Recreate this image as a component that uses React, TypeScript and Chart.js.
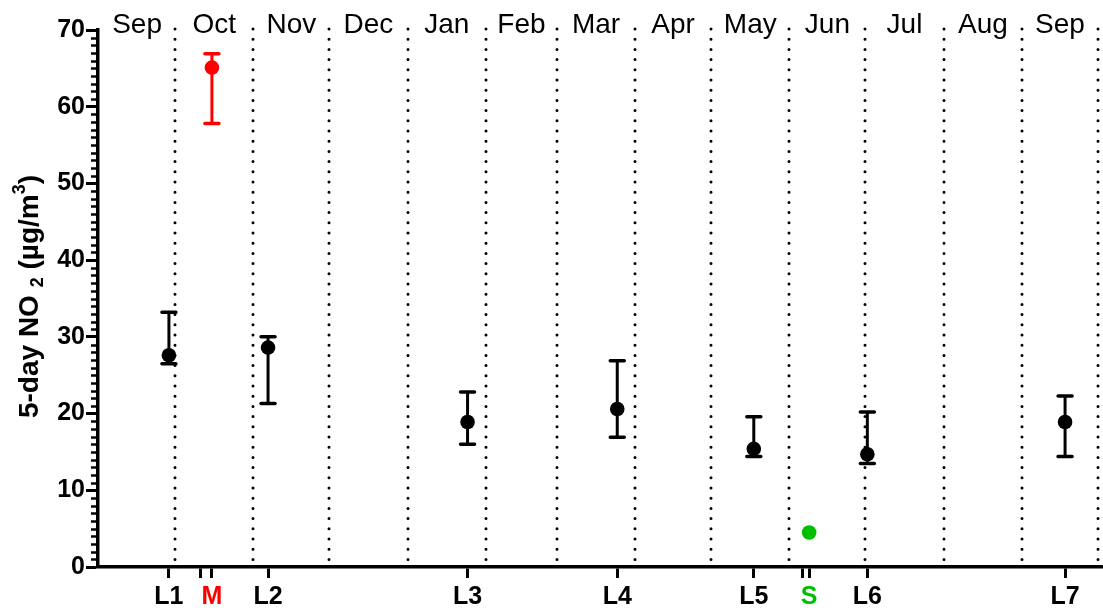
import { useEffect, useRef } from "react";
import { Chart, registerables } from "chart.js";

Chart.register(...registerables);

const FONT = "'Liberation Sans', Arial, Helvetica, sans-serif";

// Months shown along the top, with their start day (days since Sep 1)
const monthNames = ["Sep", "Oct", "Nov", "Dec", "Jan", "Feb", "Mar", "Apr", "May", "Jun", "Jul", "Aug", "Sep"];
const monthStarts = [0, 30, 61, 91, 122, 153, 181, 212, 242, 273, 303, 334, 365, 395];

// Sampling sites
const siteLabels = ["L1", "M", "L2", "L3", "L4", "L5", "S", "L6", "L7"];
const siteDays = [27.6, 44.6, 66.8, 145.7, 204.9, 258.9, 280.8, 303.8, 382];
const siteMeans = [27.6, 65.1, 28.6, 18.9, 20.6, 15.4, 4.5, 14.7, 18.9];
const siteLower = [26.5, 57.8, 21.3, 16.0, 16.9, 14.4, null, 13.5, 14.4];
const siteUpper = [33.2, 66.9, 30.0, 22.8, 26.9, 19.6, null, 20.2, 22.3];
const siteColors = ["#000000", "#ff0000", "#000000", "#000000", "#000000", "#000000", "#00bf00", "#000000", "#000000"];

// Extra unlabelled ticks (period starts for M and S)
const extraTickDays = [39.9, 278.0];

const yTicks = [0, 10, 20, 30, 40, 50, 60, 70];

const xTickDays = [...siteDays, ...extraTickDays].sort((a, b) => a - b);

const overlay = {
  id: "overlay",
  beforeDatasetsDraw(chart: any) {
    const { ctx, chartArea, scales } = chart;
    const x = scales.x;
    const y = scales.y;
    // dotted month boundaries
    ctx.save();
    ctx.strokeStyle = "#000";
    ctx.lineWidth = 3;
    ctx.lineCap = "round";
    ctx.setLineDash([0, 10.2]);
    monthStarts.slice(1).forEach((d) => {
      const px = Math.round(x.getPixelForValue(d));
      ctx.beginPath();
      ctx.moveTo(px, chartArea.top - 1);
      ctx.lineTo(px, chartArea.bottom - 4);
      ctx.stroke();
    });
    ctx.restore();

    // error bars
    ctx.save();
    ctx.lineWidth = 3;
    siteDays.forEach((d, i) => {
      const lo = siteLower[i];
      const hi = siteUpper[i];
      if (lo == null || hi == null) return;
      const px = x.getPixelForValue(d);
      const pl = y.getPixelForValue(lo);
      const pu = y.getPixelForValue(hi);
      ctx.strokeStyle = siteColors[i];
      ctx.lineCap = "butt";
      ctx.beginPath();
      ctx.moveTo(px, pl);
      ctx.lineTo(px, pu);
      ctx.stroke();
      ctx.lineCap = "round";
      ctx.lineWidth = 3.5;
      ctx.beginPath();
      ctx.moveTo(px - 7, pl);
      ctx.lineTo(px + 7, pl);
      ctx.moveTo(px - 7, pu);
      ctx.lineTo(px + 7, pu);
      ctx.stroke();
      ctx.lineWidth = 3;
    });
    ctx.restore();
  },
  afterDraw(chart: any) {
    const { ctx, chartArea, scales } = chart;
    const x = scales.x;
    const y = scales.y;
    // minor ticks on y
    ctx.save();
    ctx.strokeStyle = "#000";
    ctx.lineWidth = 2.5;
    for (let v = 1; v < 70; v++) {
      if (v % 10 === 0) continue;
      const py = Math.round(y.getPixelForValue(v)) + 0.5;
      ctx.beginPath();
      ctx.moveTo(chartArea.left - 7, py);
      ctx.lineTo(chartArea.left, py);
      ctx.stroke();
    }
    ctx.restore();

    // month labels on top
    ctx.save();
    ctx.fillStyle = "#000";
    ctx.font = `28px ${FONT}`;
    ctx.textAlign = "center";
    ctx.textBaseline = "alphabetic";
    monthNames.forEach((m, i) => {
      const c = x.getPixelForValue((monthStarts[i] + monthStarts[i + 1]) / 2);
      ctx.fillText(m, c, 33);
    });
    ctx.restore();

    // y axis title with sub/superscript
    ctx.save();
    const cy = (chartArea.top + chartArea.bottom) / 2 - 2;
    ctx.translate(38, cy);
    ctx.rotate(-Math.PI / 2);
    ctx.fillStyle = "#000";
    ctx.textBaseline = "alphabetic";
    ctx.textAlign = "left";
    const big = `bold 28px ${FONT}`;
    const small = `bold 18px ${FONT}`;
    const parts = [
      { t: "5-day NO ", f: big, dy: 0 },
      { t: "2", f: small, dy: 5 },
      { t: " (\u00b5g/m", f: big, dy: 0 },
      { t: "3", f: small, dy: -13 },
      { t: ")", f: big, dy: 0 },
    ];
    let total = 0;
    parts.forEach((p) => {
      ctx.font = p.f;
      total += ctx.measureText(p.t).width;
    });
    let cx = -total / 2;
    parts.forEach((p) => {
      ctx.font = p.f;
      ctx.fillText(p.t, cx, p.dy);
      cx += ctx.measureText(p.t).width;
    });
    ctx.restore();
  },
};

export default function App() {
  const ref = useRef<HTMLCanvasElement | null>(null);
  useEffect(() => {
    if (!ref.current) return;
    const chart = new Chart(ref.current, {
      type: "scatter",
      data: {
        datasets: [
          {
            data: siteDays.map((d, i) => ({ x: d, y: siteMeans[i] })),
            pointBackgroundColor: siteColors,
            pointBorderColor: siteColors,
            pointBorderWidth: 0,
            pointRadius: 7.3,
            pointHoverRadius: 7.3,
          },
        ],
      },
      options: {
        responsive: false,
        animation: false,
        events: [],
        layout: { autoPadding: false, padding: { top: 30, right: 0, left: 0, bottom: 0 } },
        plugins: { legend: { display: false }, tooltip: { enabled: false } },
        scales: {
          x: {
            type: "linear",
            position: "bottom",
            min: -0.45,
            max: 397,
            afterBuildTicks: (scale: any) => {
              scale.ticks = xTickDays.map((v) => ({ value: v }));
            },
            afterFit: (scale: any) => {
              scale.height = 43;
              scale.paddingLeft = 0;
              scale.paddingRight = 0;
            },
            grid: { drawOnChartArea: false, drawTicks: true, tickLength: 11, tickWidth: 3, tickColor: "#000" },
            border: { display: true, width: 3.5, color: "#000" },
            ticks: {
              autoSkip: false,
              maxRotation: 0,
              minRotation: 0,
              padding: 4,
              font: { family: FONT, size: 25, weight: "bold" },
              color: (c: any) => {
                const i = siteDays.indexOf(c.tick?.value);
                return i >= 0 ? siteColors[i] : "#000";
              },
              callback: (v: any) => {
                const i = siteDays.indexOf(Number(v));
                return i >= 0 ? siteLabels[i] : "";
              },
            },
          },
          y: {
            min: 0,
            max: 70,
            afterBuildTicks: (scale: any) => {
              scale.ticks = yTicks.map((v) => ({ value: v }));
            },
            afterFit: (scale: any) => {
              scale.width = 98;
            },
            grid: { drawOnChartArea: false, drawTicks: true, tickLength: 12, tickWidth: 3, tickColor: "#000" },
            border: { display: true, width: 3.5, color: "#000" },
            ticks: {
              padding: 1,
              color: "#000",
              font: { family: FONT, size: 25, weight: "bold" },
              callback: (v: any) => String(v),
            },
          },
        },
      },
      plugins: [overlay],
    });
    return () => chart.destroy();
  }, []);
  return (
    <div style={{ position: "fixed", left: 0, top: 0, width: 1103, height: 610, background: "#fff" }}>
      <canvas ref={ref} width={1103} height={610} />
    </div>
  );
}
